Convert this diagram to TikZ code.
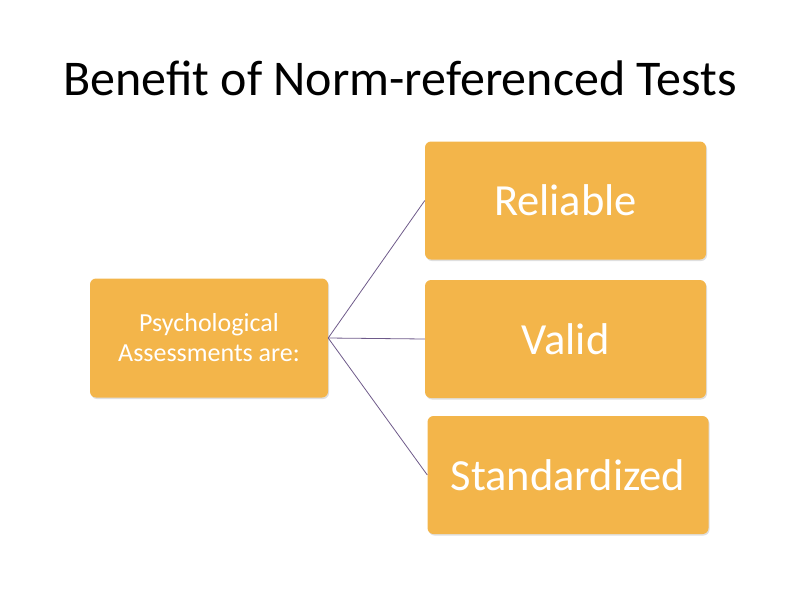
\documentclass[tikz,border=0pt]{standalone}
\usepackage{fontspec}
\setmainfont{Carlito}
\usetikzlibrary{positioning,shadows}
\definecolor{boxorange}{HTML}{F3B54A}
\definecolor{linkpurple}{HTML}{6E5A8A}
\tikzset{
  item/.style={draw=none,fill=boxorange,rounded corners=6pt,text=white,
    minimum width=281pt,minimum height=118pt,font=\fontsize{44.5}{48}\selectfont,
    drop shadow={opacity=0.25,shadow xshift=1pt,shadow yshift=-1.5pt}},
  root/.style={item,minimum width=238pt,minimum height=119pt,align=center,
    font=\fontsize{26}{30}\selectfont},
  link/.style={draw=linkpurple,line width=0.8pt}
}
\begin{document}
\begin{tikzpicture}[x=1pt,y=-1pt]
\useasboundingbox (0,0) rectangle (800,600);
% title
\node (title) at (400,78) {\fontsize{50}{56}\selectfont Benefit of Norm-referenced Tests};
% boxes
\node[root] (psych) at (209,338) {Psychological\\Assessments are:};
\node[item] (reliable) at (565.5,200.5) {Reliable};
\node[item] (valid) at (565.5,339) {Valid};
\node[item] (standard) at (568,475) {Standardized};
% connectors
\draw[link] (psych.east) -- (reliable.west);
\draw[link] (psych.east) -- (valid.west);
\draw[link] (psych.east) -- (standard.west);
\end{tikzpicture}
\end{document}
